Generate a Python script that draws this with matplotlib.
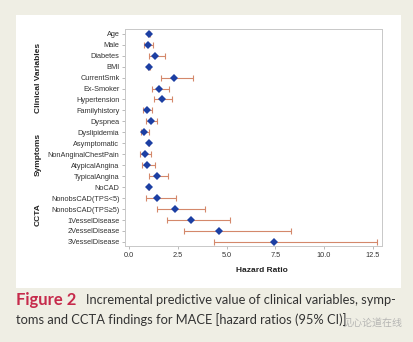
import numpy as np
import matplotlib
matplotlib.use("Agg")
import matplotlib.pyplot as plt
from matplotlib import transforms
from matplotlib.patches import Rectangle

plt.rcParams['font.family'] = ['Liberation Sans', 'DejaVu Sans']

# hazard ratios (95% CI) per predictor
names = ["Age", "Male", "Diabetes", "BMI", "CurrentSmk", "Ex-Smoker",
         "Hypertension", "Familyhistory", "Dyspnea", "Dyslipidemia",
         "Asymptomatic", "NonAnginalChestPain", "AtypicalAngina",
         "TypicalAngina", "NoCAD", "NonobsCAD(TPS<5)", "NonobsCAD(TPS\u22655)",
         "1VesselDisease", "2VesselDisease", "3VesselDisease"]
hr = [1.01, 0.94, 1.32, 1.01, 2.28, 1.53, 1.66, 0.89, 1.10, 0.75,
      1.00, 0.81, 0.93, 1.41, 1.00, 1.44, 2.33, 3.17, 4.62, 7.43]
lo = [0.98, 0.74, 1.00, 0.98, 1.61, 1.15, 1.29, 0.69, 0.84, 0.62,
      1.00, 0.57, 0.67, 1.03, 1.00, 0.86, 1.41, 1.95, 2.79, 4.37]
hi = [1.04, 1.23, 1.85, 1.04, 3.26, 2.04, 2.21, 1.18, 1.44, 1.00,
      1.00, 1.13, 1.34, 2.00, 1.00, 2.38, 3.90, 5.19, 8.29, 12.72]

groups = ["Clinical Variables", "Symptoms", "CCTA"]
group_rows = [(0, 8), (9, 13), (14, 19)]

xticks = [0.0, 2.5, 5.0, 7.5, 10.0, 12.5]

W, H = 414, 342
fig = plt.figure(figsize=(W / 100, H / 100), dpi=100, facecolor="#efeee4")

# white panel behind the plot
fig.patches.append(Rectangle((16 / W, 1 - 288 / H), 385 / W, 273 / H,
                             transform=fig.transFigure, facecolor="white",
                             edgecolor="none", zorder=-5))

ax = fig.add_axes([125 / W, 1 - 246 / H, 257 / W, 217 / H])
ax.set_zorder(2)
ax.set_facecolor("white")

y = np.arange(len(names))
hr = np.array(hr)
err = np.vstack([hr - np.array(lo), np.array(hi) - hr])
ax.errorbar(hr, y, xerr=err, fmt="none", ecolor="#d4886b", elinewidth=0.8,
            capsize=1.9, capthick=0.8, zorder=2)
ax.plot(hr, y, "D", color="#1c3fa3", markersize=3.7, markeredgewidth=0,
        zorder=3)

ax.set_ylim(19.37, -0.43)
ax.set_xlim(-0.22, 12.98)
ax.set_yticks(y)
ax.set_yticklabels(names)
ax.set_xticks(xticks)
ax.set_xticklabels(["%.1f" % v for v in xticks])
ax.tick_params(axis="both", labelsize=5.3, colors="#b0b0b0", labelcolor="#333333",
               length=2.5, width=0.6, pad=1.5)
for s in ax.spines.values():
    s.set_color("#c8c8c8")
    s.set_linewidth(0.7)

# group labels on the left
trans = transforms.blended_transform_factory(ax.transAxes, ax.transData)
for g, (a, b) in zip(groups, group_rows):
    ax.text(-0.3385, (a + b) / 2, g, transform=trans, rotation=90,
            ha="center", va="center", fontsize=6, fontweight="bold",
            color="#222222")

fig.text(262 / W, 1 - 271 / H, "Hazard Ratio", ha="center", va="center",
         fontsize=6, fontweight="bold", color="#222222")

# caption
fig.text(16 / W, 1 - 300 / H, "Figure 2", ha="left", va="center",
         fontsize=12, fontweight="bold", color="#c62a4b", family="Lato")
fig.text(86 / W, 1 - 300 / H,
         "Incremental predictive value of clinical variables, symp-",
         ha="left", va="center", fontsize=9.3, color="#333333", family="Lato")
fig.text(16 / W, 1 - 320 / H,
         "toms and CCTA findings for MACE [hazard ratios (95% CI)]",
         ha="left", va="center", fontsize=9.3, color="#333333", family="Lato")

fig.text(343 / W, 1 - 323 / H, "见心论道在线", ha="left", va="center",
         fontsize=7.2, color="#a8a8a8", alpha=0.8,
         family=["Noto Sans CJK SC", "DejaVu Sans"])

fig.savefig("out.png", dpi=100, facecolor=fig.get_facecolor())
